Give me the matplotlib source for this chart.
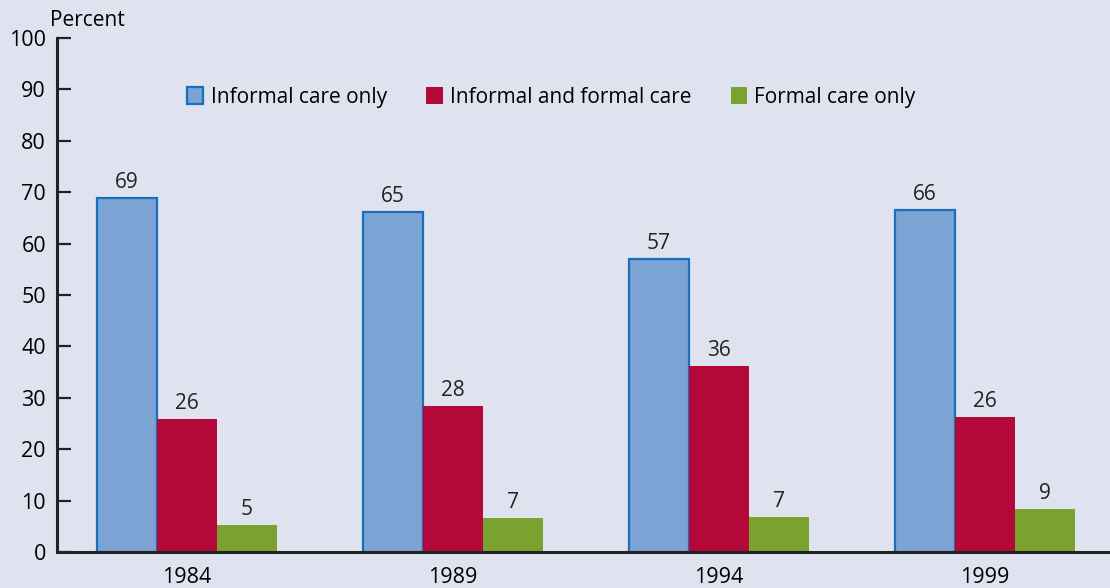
import matplotlib
matplotlib.use("Agg")
import matplotlib.pyplot as plt
import numpy as np

years = ["1984", "1989", "1994", "1999"]
series = ["Informal care only", "Informal and formal care", "Formal care only"]
informal_only = [68.9, 66.1, 57.0, 66.5]
both = [25.9, 28.4, 36.2, 26.3]
formal_only = [5.2, 6.6, 6.8, 8.4]
informal_lbl = ["69", "65", "57", "66"]
both_lbl = ["26", "28", "36", "26"]
formal_lbl = ["5", "7", "7", "9"]

bg = "#dfe3f0"
plt.rcParams["font.family"] = ["Open Sans", "DejaVu Sans"]

fig = plt.figure(figsize=(11.1, 5.88), dpi=100, facecolor=bg)
ax = fig.add_axes([57 / 1110, 1 - 552 / 588, 1 - 57 / 1110, (552 - 38) / 588])
ax.set_facecolor(bg)

x = np.arange(len(years))
w = 0.2256
styles = [
    dict(color="#7ba3d4", edgecolor="#1a6fba", linewidth=1.6),
    dict(color="#b5083a", edgecolor="none"),
    dict(color="#79a22e", edgecolor="none"),
]
data = [informal_only, both, formal_only]
labels = [informal_lbl, both_lbl, formal_lbl]
for i, (vals, lbls, st, name) in enumerate(zip(data, labels, styles, series)):
    xs = x + (i - 1) * w
    ax.bar(xs, vals, w, label=name, zorder=2, **st)
    for xi, v, t in zip(xs, vals, lbls):
        ax.text(xi, v + 1.0, t, ha="center", va="bottom", fontsize=15, color="#222222")

ax.set_xlim(-0.489, 3.47)
ax.set_ylim(0, 100)
ax.set_yticks(range(0, 101, 10))
ax.set_xticks(x)
ax.set_xticklabels(years)
ax.tick_params(axis="y", direction="in", length=10, width=1.6, labelsize=15.5, pad=8, color="#222222")
ax.tick_params(axis="x", length=0, labelsize=15.5, pad=11)
for s in ["top", "right"]:
    ax.spines[s].set_visible(False)
for s in ["left", "bottom"]:
    ax.spines[s].set_linewidth(2.2)
    ax.spines[s].set_color("#222222")

fig.text(50 / 1110, 1 - 20 / 588, "Percent", fontsize=15, va="center", ha="left")

leg = ax.legend(ncol=3, frameon=False, loc="center left", bbox_to_anchor=(0.1235, 0.885),
                fontsize=15, handlelength=0.78, handleheight=0.9, handletextpad=0.35,
                columnspacing=1.9, borderpad=0, borderaxespad=0)

fig.savefig("out.png", dpi=100, facecolor=bg)
